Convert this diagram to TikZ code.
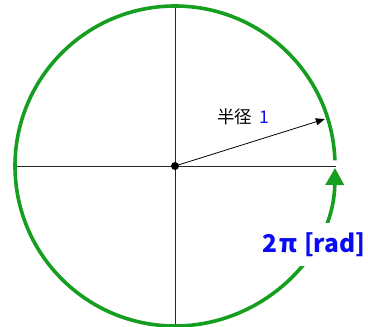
\documentclass[tikz,border=0pt]{standalone}
\usepackage{fontspec}
\newfontfamily\jp{Noto Sans CJK JP}
\usetikzlibrary{arrows.meta}
\definecolor{arcgreen}{RGB}{22,158,32}
\definecolor{lblue}{RGB}{10,10,245}
\tikzset{
  axisline/.style={draw=black!85, line width=0.8pt},
  greenarc/.style={draw=arcgreen, line width=3.6pt, -{Triangle[length=17pt,width=18pt]}},
  radiusarrow/.style={draw=black, line width=0.8pt, -{Triangle[length=9pt,width=7pt]}},
  centerdot/.style={circle, fill=black, inner sep=0pt, minimum size=8pt},
  radlabel/.style={fill=white, inner sep=0pt, minimum width=100pt, minimum height=43pt, text=lblue, font=\jp\bfseries\fontsize{24.5}{30}\selectfont},
  rlabel/.style={inner sep=0pt, font=\jp\fontsize{17.5}{20}\selectfont}
}
\begin{document}
\begin{tikzpicture}[x=1pt,y=1pt]
\useasboundingbox (0,0) rectangle (368,327);
\coordinate (O) at (175,161);
\coordinate (L) at (14,161);
\coordinate (R) at (336,161);
\coordinate (T) at (175,321);
\coordinate (B) at (175,2);
\draw[axisline] (L) -- (R);
\draw[axisline] (T) -- (B);
\draw[greenarc] ([shift={(2:160)}]O) arc[start angle=2, end angle=359.3, radius=160];
\node[radlabel] (rad) at (314,82) {2\kern2pt π\kern1pt\ [rad]};
\draw[radiusarrow] (O) -- ++(17.4:157) coordinate (P);
\node[centerdot] (Od) at (O) {};
\node[rlabel] (r) at (243,210) {半径\kern3pt\ \textcolor{lblue}{1}};
\end{tikzpicture}
\end{document}
